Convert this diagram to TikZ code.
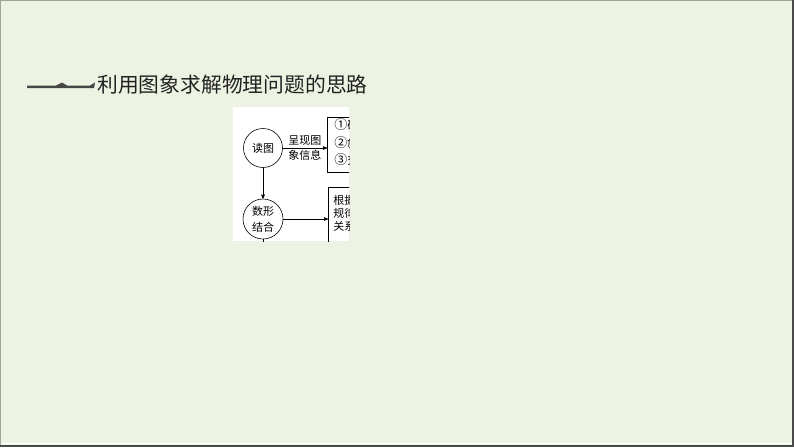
\documentclass[tikz,border=0pt]{standalone}
\usepackage{fontspec}
\newfontfamily\cjk{Noto Sans CJK SC}
\usepackage{tikz}
\usetikzlibrary{arrows}

\definecolor{slidebg}{HTML}{EDF3E2}
\definecolor{framegreen}{HTML}{9CA892}
\definecolor{framedark}{HTML}{4A4A4A}
\definecolor{inkgray}{HTML}{222222}

\newcommand\bignum[1]{{\fontsize{13}{17.5}\selectfont #1}}

\tikzset{
  stage/.style={circle,draw,inner sep=0pt,align=center,
    font=\cjk\fontsize{11}{16}\selectfont},
  panelbox/.style={draw,rectangle,inner sep=0pt},
  boxtext/.style={anchor=north west,inner sep=0pt,align=left}
}

\begin{document}
\begin{tikzpicture}[x=1pt,y=-1pt,>=stealth',font=\cjk]
    \useasboundingbox (0,0) rectangle (794,447);
    \fill[slidebg] (0,0) rectangle (794,447);
    \draw[framegreen,line width=1.2pt] (0.6,447) -- (0.6,0.6) -- (794,0.6);
    \draw[white,line width=1pt] (1,443.5) -- (792,443.5);
    \draw[framedark,line width=2pt] (0,446) -- (793,446) -- (793,0);
    % remnant of the banner
    \fill[gray!55!black] (27,85.5) -- (56,85.5) -- (62,82.5) -- (67,85.5) -- (90,85.5)
      -- (95,82.5) -- (94,88) -- (27,88) -- cycle;
    \node[anchor=west,inner sep=0pt,text=inkgray,
      font=\cjk\fontsize{20.8}{21}\selectfont] (title) at (97,85)
      {利用图象求解物理问题的思路};
    % the cropped figure
    \fill[white] (233,107) rectangle (349,241);
    \begin{scope}[line width=0.6pt]
    \clip (233,107) rectangle (349,241);
    \node[stage,minimum size=39pt] (read) at (263,148) {读图};
    \node[stage,minimum size=40pt] (combine) at (263,219) {数形\\结合};
    \node[panelbox,anchor=north west,minimum width=80pt,minimum height=55pt]
      (info) at (327,117) {};
    \node[boxtext,font=\cjk\fontsize{11}{17.5}\selectfont] (infotext)
      at (334,118.5) {\bignum{①}确定坐标轴\\\bignum{②}斜率\\\bignum{③}交点};
    \node[panelbox,anchor=north west,minimum width=80pt,minimum height=80pt]
      (law) at (328,187) {};
    \node[boxtext,font=\cjk\fontsize{11}{13}\selectfont] (lawtext)
      at (333,194.5) {根据物理\\规律写出\\关系式};
    \coordinate (down) at (263,250);
    \draw[->,font=\cjk\fontsize{11}{11}\selectfont]
      (read) edge (combine)
      (read) edge node[above,inner sep=2pt] {呈现图}
                  node[below,inner sep=2pt] {象信息} (read -| info.west)
      (combine) edge (combine -| law.west);
    \draw (combine) -- (down);
    \end{scope}
\end{tikzpicture}
\end{document}
